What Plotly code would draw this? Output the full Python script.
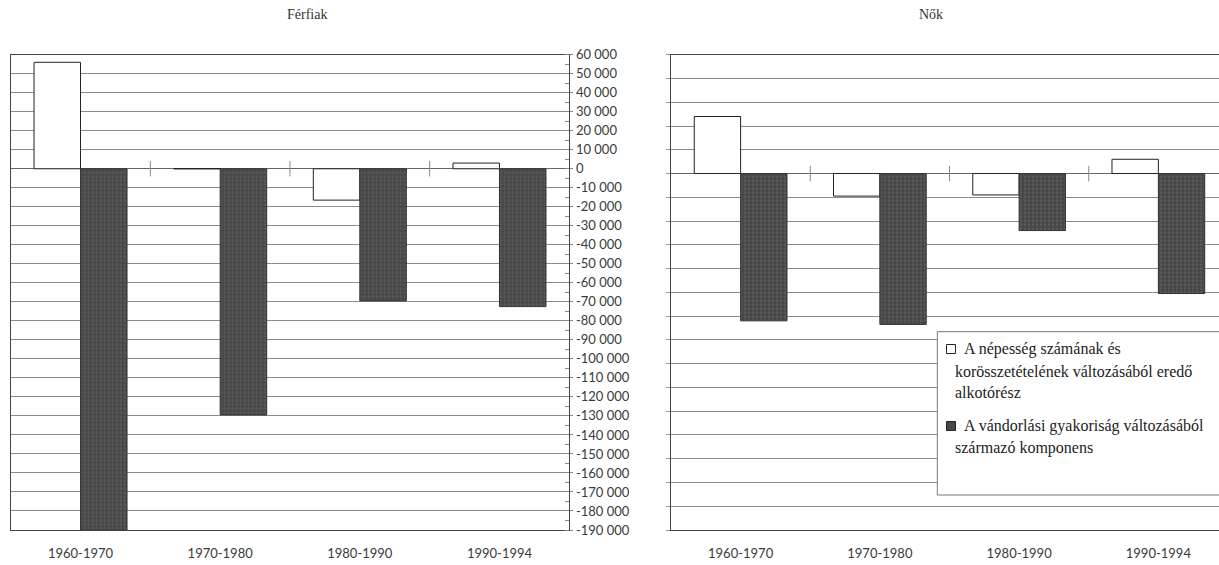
import plotly.graph_objects as go

# ---------------- data ----------------
categories = ["1960-1970", "1970-1980", "1980-1990", "1990-1994"]
series_names = [
    "A népesség számának és<br>korösszetételének változásából eredő<br>alkotórész",
    "A vándorlási gyakoriság változásából<br>származó komponens",
]
panel_titles = ["Férfiak", "Nők"]

men_structure = [56000, 0, -16500, 3000]
men_migration = [-190000, -129500, -69500, -72500]
women_structure = [24000, -9500, -9000, 6000]
women_migration = [-62000, -63500, -24000, -50500]

men_y_ticks = list(range(60000, -190001, -10000))
men_y_ticklabels = [("-" if v < 0 else "") + f"{abs(v):,}".replace(",", " ") for v in men_y_ticks]
women_y_ticks = list(range(50000, -150001, -10000))

# ---------------- geometry helpers ----------------
W, H = 1219, 565
def px(x):
    return x / W
def py(y):
    return 1 - y / H

xpos = list(range(len(categories)))
bounds = [i + 0.5 for i in range(len(categories) - 1)]

WHITE = "#ffffff"
DARK = "#484848"
GRID = "#8c8c8c"
TICKFONT = dict(family="Lato, 'DejaVu Sans', sans-serif", size=13, color="#3a3a3a")
SERIF = "'Liberation Serif', 'DejaVu Serif', serif"

fig = go.Figure()

def add_panel(xa, ya, structure, migration):
    fig.add_trace(go.Bar(
        x=xpos, y=structure, name=series_names[0], xaxis=xa, yaxis=ya,
        marker=dict(color=WHITE, line=dict(color="#222222", width=1)),
        showlegend=False))
    fig.add_trace(go.Bar(
        x=xpos, y=migration, name=series_names[1], xaxis=xa, yaxis=ya,
        marker=dict(color=DARK, line=dict(color="#333333", width=1),
                    pattern=dict(shape=".", fgcolor="#707070", bgcolor=DARK,
                                 size=4, solidity=0.25)),
        showlegend=False))
    fig.add_trace(go.Scatter(
        x=bounds, y=[0] * len(bounds), mode="markers", xaxis=xa, yaxis=ya,
        marker=dict(symbol="line-ns-open", size=11, color="#888888",
                    line=dict(color="#888888", width=1)),
        hoverinfo="skip", showlegend=False))

add_panel("x", "y", men_structure, men_migration)
add_panel("x2", "y2", women_structure, women_migration)

y_dom = [py(530), py(54.7)]

fig.update_layout(
    width=W, height=H,
    margin=dict(l=0, r=0, t=0, b=0, autoexpand=False),
    paper_bgcolor="white", plot_bgcolor="white",
    barmode="group", bargap=0.334, bargroupgap=0,
    xaxis=dict(domain=[px(10.7), px(569.3)], range=[-0.5, 3.5],
               tickvals=xpos, ticktext=categories, tickfont=dict(TICKFONT, size=13),
               showgrid=False, zeroline=False, showline=True, mirror=True,
               linecolor="#444444", linewidth=1, ticks="", ticklabelstandoff=11,
               anchor="y", automargin=False),
    yaxis=dict(domain=y_dom, range=[-190000, 60000], side="right",
               tickvals=men_y_ticks, ticktext=men_y_ticklabels, tickfont=TICKFONT,
               showgrid=True, gridcolor=GRID, gridwidth=1,
               zeroline=True, zerolinecolor="#666666", zerolinewidth=1,
               showline=True, mirror=True, linecolor="#444444", linewidth=1,
               ticks="outside", ticklen=3, tickcolor="#888888",
               minor=dict(dtick=5000, tick0=0, ticks="inside", ticklen=4, tickcolor="#888888", showgrid=False),
               anchor="x", automargin=False),
    xaxis2=dict(domain=[px(671), 1], range=[-0.5, 3.5 - 9 / 139.5],
                tickvals=xpos, ticktext=categories, tickfont=dict(TICKFONT, size=13),
                showgrid=False, zeroline=False, showline=True, mirror=True,
                linecolor="#444444", linewidth=1, ticks="", ticklabelstandoff=11,
                anchor="y2", automargin=False),
    yaxis2=dict(domain=y_dom, range=[-150000, 50000], side="left",
                tickvals=women_y_ticks, showticklabels=False,
                showgrid=True, gridcolor=GRID, gridwidth=1,
                zeroline=True, zerolinecolor="#666666", zerolinewidth=1,
                showline=True, mirror=False, linecolor="#444444", linewidth=1,
                ticks="outside", ticklen=4, tickcolor="#999999",
                anchor="x2", automargin=False),
)

# panel titles
fig.add_annotation(x=px(285), y=py(5), xref="paper", yref="paper", text=panel_titles[0],
                   showarrow=False, font=dict(family=SERIF, size=14, color="#333333"))
fig.add_annotation(x=px(945), y=py(5), xref="paper", yref="paper", text=panel_titles[1],
                   showarrow=False, font=dict(family=SERIF, size=14, color="#333333"))

# legend (box, markers, text)
fig.add_shape(type="rect", xref="paper", yref="paper",
              x0=px(937.3), x1=px(1260), y0=py(495), y1=py(331.7),
              line=dict(color="#777777", width=1), fillcolor="white", layer="above")
legend_rows = [(349, 22), (426, 22)]
marker_styles = [dict(fill=WHITE, line="#222222"), dict(fill=DARK, line="#222222")]
for i, name in enumerate(series_names):
    top, step = legend_rows[i]
    fig.add_shape(type="rect", xref="paper", yref="paper",
                  x0=px(946.5), x1=px(955.5), y0=py(top + 4.5), y1=py(top - 4.5),
                  line=dict(color=marker_styles[i]["line"], width=1),
                  fillcolor=marker_styles[i]["fill"], layer="above")
    for j, line in enumerate(name.split("<br>")):
        fig.add_annotation(x=px(961.5 if j == 0 else 952.5), y=py(top + j * step),
                           xref="paper", yref="paper", text=line, showarrow=False,
                           xanchor="left", yanchor="middle",
                           font=dict(family=SERIF, size=16, color="#222222"))

fig.write_html("out.html", config={"displayModeBar": False},
               post_script="document.body.style.margin='0';document.body.style.overflow='hidden';")
